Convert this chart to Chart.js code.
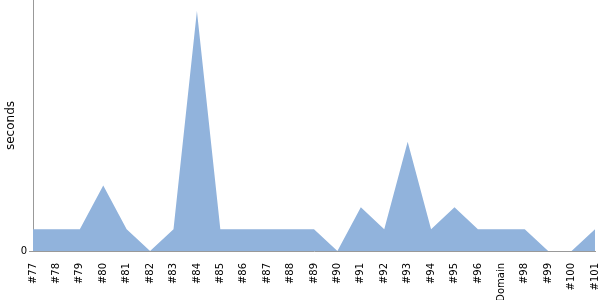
<!DOCTYPE html>
<html><head><meta charset="utf-8">
<script src="https://cdn.jsdelivr.net/npm/chart.js@4"></script>
<style>html,body{margin:0;padding:0;background:#fff}#wrap{width:600px;height:300px}</style>
</head><body><div id="wrap"><canvas id="c"></canvas></div>
<script>
const categories = ["#77","#78","#79","#80","#81","#82","#83","#84","#85","#86","#87","#88","#89","#90","#91","#92","#93","#94","#95","#96","Domain","#98","#99","#100","#101"];
const seconds = [1,1,1,3,1,0,1,11,1,1,1,1,1,0,2,1,5,1,2,1,1,1,0,0,1];
const yTicks = [0];

new Chart(document.getElementById('c'), {
  type: 'line',
  data: { labels: categories, datasets: [{
    data: seconds, fill: 'origin', backgroundColor: '#91B3DC',
    borderWidth: 0, pointRadius: 0, tension: 0
  }]},
  options: {
    responsive: true, maintainAspectRatio: false, animation: false,
    layout: { padding: { top: 0, right: 5, left: 0, bottom: 0 } },
    plugins: { legend: { display: false }, tooltip: { enabled: false } },
    scales: {
      x: {
        offset: false,
        grid: { display: false },
        border: { display: true, color: '#999' },
        ticks: { minRotation: 90, maxRotation: 90, autoSkip: false, color: '#000', padding: 4,
                 font: { family: 'DejaVu Sans', size: 10 } },
        afterFit: s => { s.height = 49; s.paddingLeft = 0; s.paddingRight = 0; }
      },
      y: {
        min: 0, max: 11.5,
        afterBuildTicks: s => { s.ticks = yTicks.map(v => ({ value: v })); },
        grid: { drawOnChartArea: false, drawTicks: true, tickLength: 4, color: '#999' },
        border: { display: true, color: '#999' },
        ticks: { color: '#000', padding: 2, font: { family: 'DejaVu Sans', size: 10 } },
        title: { display: true, text: 'seconds', color: '#000', padding: { top: 4, bottom: 0 },
                 font: { family: 'DejaVu Sans', size: 12 } },
        afterFit: s => { s.width = 33; s.paddingTop = 0; s.paddingBottom = 0; }
      }
    }
  }
});
</script></body></html>
